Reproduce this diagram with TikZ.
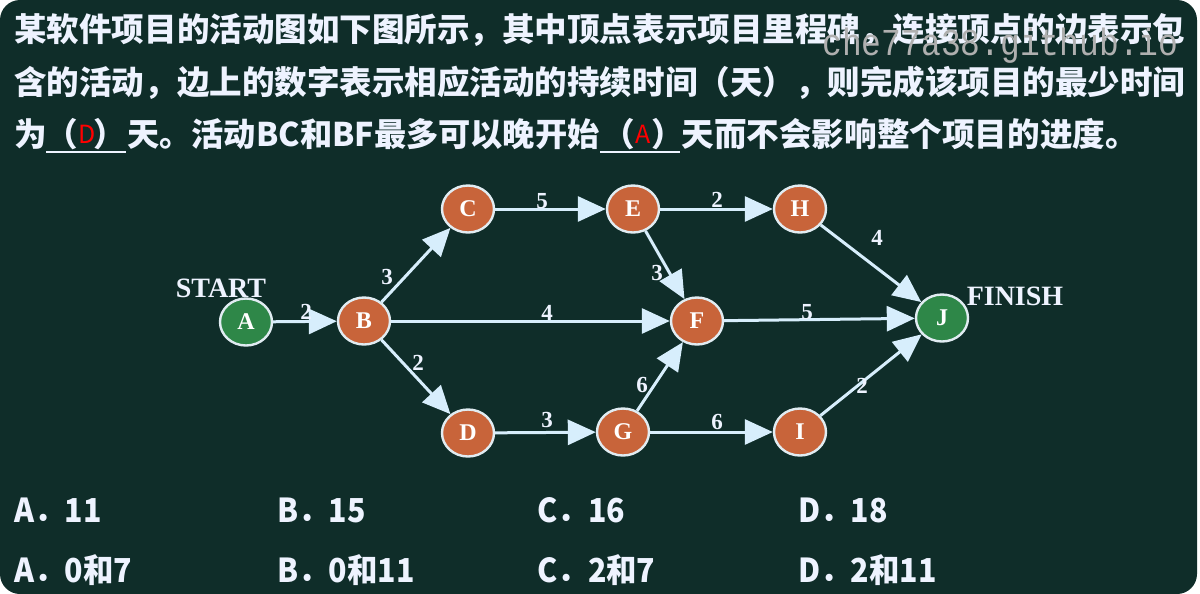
\documentclass[tikz,border=0pt]{standalone}
\usepackage{graphicx}
\usepackage{fontspec}
\setmainfont{Liberation Serif}
\newfontfamily\cjk{Noto Sans CJK SC}
\newfontfamily\wmfont{Liberation Mono}
\usetikzlibrary{arrows.meta,shapes.geometric}
\definecolor{bg}{RGB}{15,45,41}
\definecolor{nodeorange}{RGB}{200,100,58}
\definecolor{nodegreen}{RGB}{46,135,72}
\definecolor{edgecol}{RGB}{215,238,252}
\definecolor{rimcol}{RGB}{225,236,242}
\definecolor{txt}{RGB}{238,243,255}
\definecolor{wmgray}{RGB}{175,175,175}
\newcommand{\narrowopt}[1]{\scalebox{0.92}[1]{#1}}
\begin{document}
\begin{tikzpicture}[x=0.5pt,y=-0.5pt,
  vtx/.style={ellipse, draw=rimcol, line width=1.2pt, minimum width=26pt, minimum height=23.5pt, inner sep=0pt, text=white, font=\fontsize{12}{12}\selectfont\bfseries},
  orangev/.style={vtx, fill=nodeorange},
  greenv/.style={vtx, fill=nodegreen},
  arr/.style={draw=edgecol, line width=1.5pt, -{Triangle[length=14pt,width=12.5pt]}},
  lbl/.style={text=txt, font=\fontsize{11.5}{12}\selectfont\bfseries, inner sep=0pt},
  tag/.style={text=txt, font=\fontsize{14}{15}\selectfont\bfseries, inner sep=0pt},
  qline/.style={text=txt, font=\cjk\fontsize{16.3}{20}\selectfont\bfseries, inner sep=0pt, anchor=west},
  opt/.style={text=txt, font=\cjk\fontsize{16.5}{20}\selectfont\bfseries, inner sep=0pt, anchor=west},
  ansletter/.style={text=red, font=\cjk\fontsize{12.5}{13}\selectfont, inner sep=0pt},
  blank/.style={draw=txt, line width=1pt},
]
\useasboundingbox (0,0) rectangle (1200,594);
\fill[white] (0,0) rectangle (1200,594);
\fill[bg, rounded corners=10pt] (0,0) rectangle (1197,594);

% question text
\node[qline] (l1) at (14,30) {\resizebox{585.5pt}{\height}{某软件项目的活动图如下图所示，其中顶点表示项目里程碑，连接顶点的边表示包}};
\node[qline] (l2) at (14,83) {\resizebox{585.5pt}{\height}{含的活动，边上的数字表示相应活动的持续时间（天），则完成该项目的最少时间}};
\node[qline] (l3a) at (14,134) {为};
\node[qline] (p1) at (45,134) {（};
\node[ansletter] (ans1) at (87,134) {D};
\node[qline] (p2) at (93,134) {）};
\node[qline] (l3b) at (127,134) {\resizebox{236pt}{\height}{天。活动BC和BF最多可以晚开始}};
\node[qline] (p3) at (602,134) {（};
\node[ansletter] (ans2) at (643,134) {A};
\node[qline] (p4) at (651,134) {）};
\node[qline] (l3c) at (681,134) {天而不会影响整个项目的进度。};
\draw[blank] (46,152) -- (126,152);
\draw[blank] (600,152) -- (680,152);

% watermark
\node[text=wmgray, font=\wmfont\fontsize{19}{20}\selectfont, inner sep=0pt, anchor=west] (wm) at (822,46) {\resizebox{178pt}{\height}{che77a38.github.io}};

% graph nodes
\node[greenv] (A) at (246,322) {A};
\node[orangev] (B) at (364,321) {B};
\node[orangev] (C) at (468,209) {C};
\node[orangev] (D) at (468,433) {D};
\node[orangev] (E) at (633,209) {E};
\node[orangev] (H) at (800,209) {H};
\node[orangev] (F) at (697,321) {F};
\node[greenv] (J) at (942,318) {J};
\node[orangev] (G) at (623,432) {G};
\node[orangev] (I) at (800,432) {I};

\node[tag] (start) at (221,288) {START};
\node[tag] (finish) at (1015,296) {FINISH};

% edges
\draw[arr] (A) -- (B);
\draw[arr] (B) -- (C);
\draw[arr] (B) -- (F);
\draw[arr] (B) -- (D);
\draw[arr] (C) -- (E);
\draw[arr] (E) -- (H);
\draw[arr] (E) -- (F);
\draw[arr] (H) -- (J);
\draw[arr] (F) -- (J);
\draw[arr] (D) -- (G);
\draw[arr] (G) -- (F);
\draw[arr] (G) -- (I);
\draw[arr] (I) -- (J);

% edge labels
\node[lbl] (lAB) at (306,312) {2};
\node[lbl] (lBC) at (387,277) {3};
\node[lbl] (lCE) at (542,201) {5};
\node[lbl] (lEH) at (717,200) {2};
\node[lbl] (lHJ) at (877,238) {4};
\node[lbl] (lEF) at (657,273) {3};
\node[lbl] (lBF) at (547,313) {4};
\node[lbl] (lFJ) at (807,312) {5};
\node[lbl] (lBD) at (418,363) {2};
\node[lbl] (lDG) at (547,420) {3};
\node[lbl] (lGF) at (642,385) {6};
\node[lbl] (lGI) at (717,422) {6};
\node[lbl] (lIJ) at (862,386) {2};

% options
\node[opt] (o1a) at (14,510) {\narrowopt{A．11}};
\node[opt] (o1b) at (277,510) {\narrowopt{B．15}};
\node[opt] (o1c) at (537,510) {\narrowopt{C．16}};
\node[opt] (o1d) at (798,510) {\narrowopt{D．18}};
\node[opt] (o2a) at (14,570) {\narrowopt{A．0和7}};
\node[opt] (o2b) at (277,570) {\narrowopt{B．0和11}};
\node[opt] (o2c) at (537,570) {\narrowopt{C．2和7}};
\node[opt] (o2d) at (798,570) {\narrowopt{D．2和11}};
\end{tikzpicture}
\end{document}
